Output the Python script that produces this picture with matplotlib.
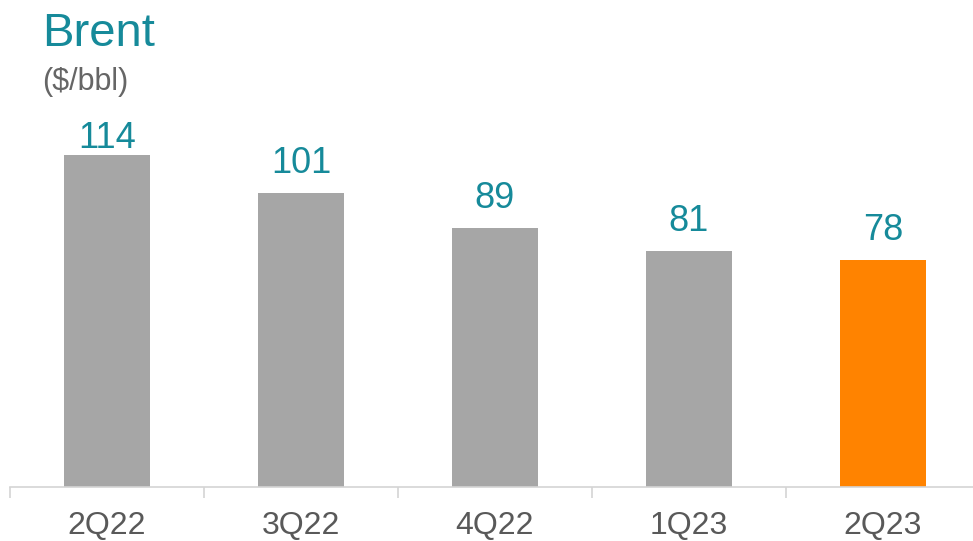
import matplotlib
matplotlib.use("Agg")
import matplotlib.pyplot as plt
import numpy as np

categories = ["2Q22", "3Q22", "4Q22", "1Q23", "2Q23"]
values = [114, 101, 89, 81, 78]
bar_colors = ["#a6a6a6", "#a6a6a6", "#a6a6a6", "#a6a6a6", "#ff8300"]

W, H = 973, 541
fig = plt.figure(figsize=(W / 100, H / 100), dpi=100)
plt.rcParams['font.family'] = ['Liberation Sans', 'DejaVu Sans']

left = 10 / W
width = 970 / W
bottom = 1 - 487 / H
height = 487 / H
ax = fig.add_axes([left, bottom, width, height])

px_per_unit = 2.912
x = np.arange(len(categories))
ax.bar(x, values, width=0.443, color=bar_colors, zorder=2)
ax.set_xlim(-0.5, len(categories) - 0.5)
ax.set_ylim(0, 487 / px_per_unit)

label_cap = 116.4  # labels cannot rise above the plot area's top row
for xi, v in zip(x, values):
    ly = min(v + 20 / px_per_unit, label_cap)
    ax.text(xi, ly, str(v), ha="center", va="baseline", fontsize=26, color="#168a9a")

for s in ["top", "right", "left"]:
    ax.spines[s].set_visible(False)
ax.spines["bottom"].set_color("#d4d4d4")
ax.spines["bottom"].set_linewidth(1.2)
ax.set_yticks([])
ax.set_xticks(np.arange(-0.5, len(categories), 1.0))
ax.set_xticklabels([])
ax.tick_params(axis="x", which="major", length=8, width=1.2, color="#d4d4d4", direction="out")
ax.set_xticks(x, minor=True)
ax.set_xticklabels(categories, minor=True)
ax.tick_params(axis="x", which="minor", length=0, pad=17, labelsize=23, labelcolor="#595959")

fig.text(42 / W, 1 - 12 / H, "Brent", fontsize=34, color="#168a9a", ha="left", va="top")
fig.text(42 / W, 1 - 67 / H, "($/bbl)", fontsize=22, color="#666666", ha="left", va="top")

fig.savefig("out.png", dpi=100)
